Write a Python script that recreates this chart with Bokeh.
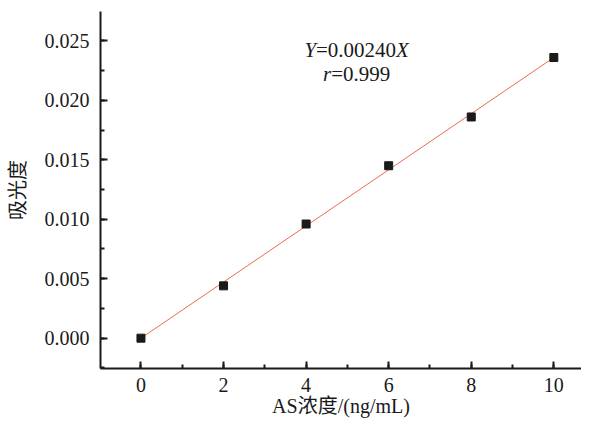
from bokeh.plotting import figure
from bokeh.models import Range1d, SingleIntervalTicker, PrintfTickFormatter, Label
from bokeh.embed import file_html
from bokeh.resources import INLINE

# Data
conc = [0, 2, 4, 6, 8, 10]
absorb = [0.0000, 0.0044, 0.0096, 0.0145, 0.0186, 0.0236]
slope = 0.00236  # fitted line drawn through origin
fit_x = [conc[0], conc[-1]]
fit_y = [slope * v for v in fit_x]

x_label = "AS浓度/(ng/mL)"
y_label = "吸光度"

SERIF = "Liberation Serif"
CJK = "Liberation Serif, Noto Sans CJK SC"

x0, x1 = -0.98, 10.67
y0, y1r = -0.00255, 0.02747

p = figure(width=581, height=419, output_backend="svg", toolbar_location=None,
           x_range=Range1d(x0, x1), y_range=Range1d(y0, y1r),
           min_border_left=100, min_border_right=0, min_border_top=11, min_border_bottom=0)
p.outline_line_color = None
p.xgrid.visible = False
p.ygrid.visible = False
p.background_fill_color = "white"
p.border_fill_color = "white"

p.line(fit_x, fit_y, line_color="#ee6a4e", line_width=1)
p.scatter(conc, absorb, marker="square", size=8, fill_color="#1a1a1a", line_color="#1a1a1a")

for ax in (p.xaxis[0], p.yaxis[0]):
    ax.axis_line_width = 2
    ax.axis_line_color = "#1a1a1a"
    ax.major_tick_line_width = 2
    ax.minor_tick_line_width = 2
    ax.major_tick_line_color = "#1a1a1a"
    ax.minor_tick_line_color = "#1a1a1a"
    ax.major_tick_in = 7
    ax.major_tick_out = 0
    ax.minor_tick_in = 4
    ax.minor_tick_out = 0
    ax.major_label_text_font = SERIF
    ax.major_label_text_font_size = "20px"
    ax.major_label_text_color = "#1a1a1a"
    ax.axis_label_text_font = CJK
    ax.axis_label_text_font_size = "20px"
    ax.axis_label_text_font_style = "normal"
    ax.axis_label_text_color = "#1a1a1a"

p.xaxis.ticker = SingleIntervalTicker(interval=2, num_minor_ticks=2)
p.yaxis.ticker = SingleIntervalTicker(interval=0.005, num_minor_ticks=2)
p.yaxis.formatter = PrintfTickFormatter(format="%.3f")
p.xaxis.axis_label = x_label
p.yaxis.axis_label = y_label
p.xaxis.major_label_standoff = 9
p.xaxis.axis_label_standoff = 0
p.yaxis.major_label_standoff = 11
p.yaxis.axis_label_standoff = 13

# Annotation text (equation)
ax_c = 5.22
ya = 0.02426
yb = 0.02220
fs = "21px"
pieces = [
    ("Y", "italic", ya, -52),
    ("=0.00240", "normal", ya, -40.5),
    ("X", "italic", ya, 39.5),
    ("r", "italic", yb, -33.5),
    ("=0.999", "normal", yb, -25.3),
]
for txt, style, yy, off in pieces:
    p.add_layout(Label(x=ax_c, y=yy, x_offset=off, text=txt, text_font=SERIF,
                       text_font_style=style, text_font_size=fs, text_color="#1a1a1a",
                       text_align="left", text_baseline="middle"))

open("out.html", "w").write(file_html(p, INLINE))
